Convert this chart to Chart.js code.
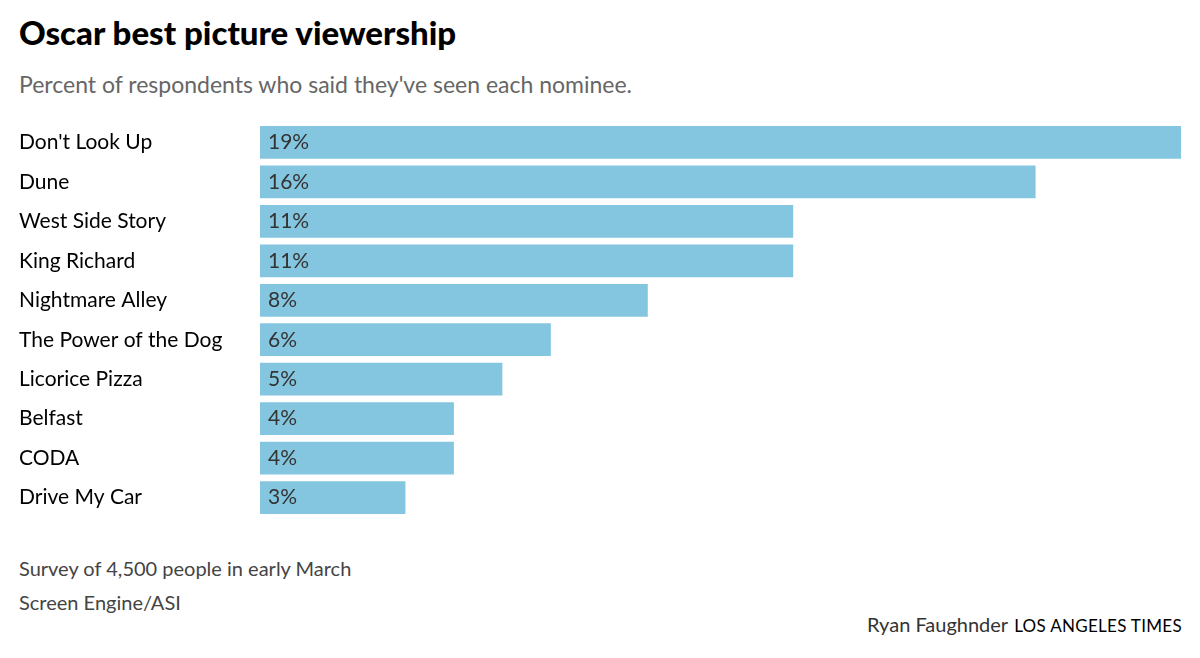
<!DOCTYPE html>
<html><head><meta charset="utf-8">
<script src="https://cdn.jsdelivr.net/npm/chart.js@4"></script>
<style>
body{margin:0;width:1200px;height:658px;background:#fff;font-family:Lato,sans-serif;position:relative;overflow:hidden}
.t{position:absolute;left:19px;white-space:nowrap}
#title{top:12px;font-size:33px;font-weight:900;color:#000}
#sub{top:70px;font-size:23px;color:#666}
.n{font-size:20px;color:#444}
#cw{position:absolute;left:0;top:110px;width:1200px;height:420px}
#credit{position:absolute;right:18px;top:612px;font-size:20px;color:#333;white-space:nowrap}
#credit span{font-size:17px;color:#000;margin-left:6px;letter-spacing:0.3px}
</style></head><body>
<div class="t" id="title">Oscar best picture viewership</div>
<div class="t" id="sub">Percent of respondents who said they've seen each nominee.</div>
<div id="cw"><canvas id="c"></canvas></div>
<div class="t n" style="top:556px">Survey of 4,500 people in early March</div>
<div class="t n" style="top:590px">Screen Engine/ASI</div>
<div id="credit">Ryan Faughnder<span>LOS ANGELES TIMES</span></div>
<script>
const categories=["Don't Look Up","Dune","West Side Story","King Richard","Nightmare Alley","The Power of the Dog","Licorice Pizza","Belfast","CODA","Drive My Car"];
const values=[19,16,11,11,8,6,5,4,4,3];
const labelPlugin={id:'lbl',afterDatasetsDraw(ch){const ctx=ch.ctx;const m=ch.getDatasetMeta(0);ctx.save();ctx.font='21px Lato';ctx.fillStyle='#333';ctx.textBaseline='middle';m.data.forEach((b,i)=>{ctx.fillText(values[i]+'%',ch.chartArea.left+8,b.y);});ctx.restore();}};
new Chart(document.getElementById('c'),{type:'bar',data:{labels:categories,datasets:[{data:values,backgroundColor:'#84c6e0',categoryPercentage:0.83,barPercentage:1}]},
options:{indexAxis:'y',responsive:true,maintainAspectRatio:false,animation:false,
layout:{padding:{left:19,right:19,top:4,bottom:4}},
plugins:{legend:{display:false},tooltip:{enabled:false}},
scales:{x:{display:false,min:0,max:19},
y:{grid:{display:false},border:{display:false},afterFit(s){s.width=241},ticks:{crossAlign:'far',padding:0,color:'#000',font:{family:'Lato',size:21}}}}},
plugins:[labelPlugin]});
</script></body></html>
